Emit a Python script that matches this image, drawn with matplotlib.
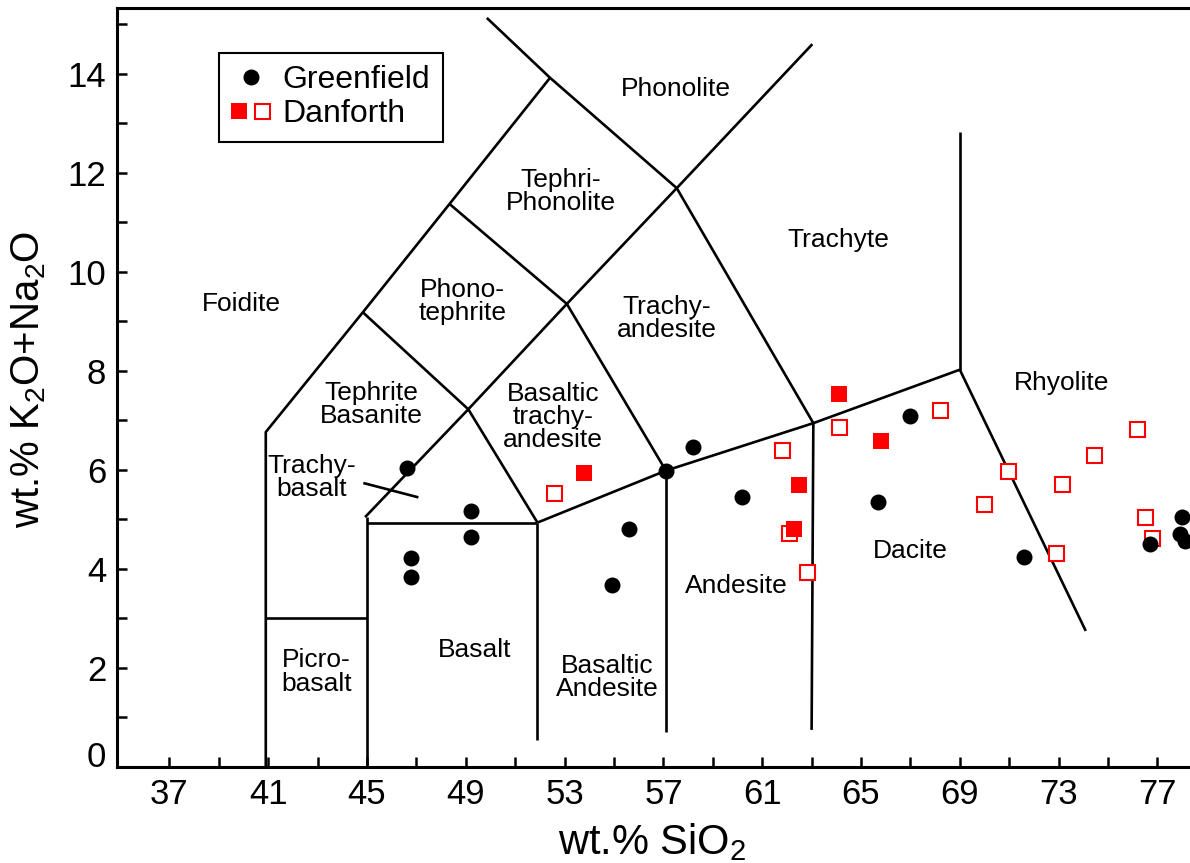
import matplotlib
matplotlib.use('Agg')
import matplotlib.pyplot as plt
import numpy as np
from matplotlib.lines import Line2D
from matplotlib.legend_handler import HandlerTuple

plt.rcParams['font.family'] = ['Liberation Sans', 'DejaVu Sans']
plt.rcParams['mathtext.fontset'] = 'custom'
plt.rcParams['mathtext.rm'] = 'Liberation Sans'

# ---- samples (SiO2, Na2O+K2O)
green_sio2 = [46.6, 46.8, 46.8, 49.2, 49.2, 54.9, 55.6, 57.1, 58.2, 60.2,
              65.7, 67.0, 71.6, 76.7, 78.0, 77.9, 78.1]
green_alk = [6.04, 4.21, 3.84, 5.17, 4.63, 3.66, 4.80, 5.98, 6.46, 5.44,
             5.34, 7.09, 4.24, 4.49, 5.04, 4.70, 4.55]

danf_fill_sio2 = [53.8, 62.5, 62.3, 64.1, 65.8]
danf_fill_alk = [5.94, 5.68, 4.80, 7.52, 6.57]

danf_open_sio2 = [52.55, 61.8, 62.1, 62.8, 64.1, 68.2, 69.96, 70.94, 72.89,
                  73.13, 74.44, 76.16, 76.5, 76.77]
danf_open_alk = [5.52, 6.40, 4.72, 3.94, 6.87, 7.21, 5.30, 5.98, 4.32,
                 5.71, 6.29, 6.82, 5.05, 4.61]

# ---- TAS field boundaries (as drawn)
outer_line = [(40.9, 0), (40.9, 6.76), (44.83, 9.18), (48.34, 11.37), (52.41, 13.92)]
picro_top = [(40.9, 3.0), (45.0, 3.0)]
v45 = [(45.0, 0), (45.0, 5.04)]
basalt_top = [(45.0, 4.93), (51.9, 4.93)]
v52 = [(51.9, 0.54), (51.9, 4.93)]
v57 = [(57.1, 0.70), (57.1, 5.98)]
v63 = [(63.0, 0.74), (63.07, 6.94)]
alk_line = [(51.9, 4.93), (57.1, 5.98), (63.07, 6.94), (69.0, 8.02)]
rhy_vert = [(69.0, 8.02), (69.0, 12.82)]
dac_rhy = [(69.0, 8.02), (74.1, 2.74)]
diag_up = [(44.92, 5.04), (49.1, 7.22), (53.09, 9.35), (57.54, 11.69), (63.03, 14.60)]
tephrite_line = [(44.83, 9.18), (49.1, 7.22), (51.9, 4.93)]
phonotep_line = [(48.34, 11.37), (53.09, 9.35), (57.1, 5.98)]
phonolite_line = [(49.85, 15.13), (52.41, 13.92), (57.54, 11.69), (63.07, 6.94)]
trachybas_tick = [(44.85, 5.73), (47.08, 5.44)]

boundaries = [outer_line, picro_top, v45, basalt_top, v52, v57, v63, alk_line,
              rhy_vert, dac_rhy, diag_up, tephrite_line, phonotep_line,
              phonolite_line, trachybas_tick]

field_names = ['Phonolite', 'Tephri-\nPhonolite', 'Trachyte', 'Foidite',
               'Phono-\ntephrite', 'Trachy-\nandesite', 'Tephrite\nBasanite',
               'Basaltic\ntrachy-\nandesite', 'Trachy-\nbasalt', 'Rhyolite',
               'Dacite', 'Andesite', 'Basalt', 'Picro-\nbasalt',
               'Basaltic\nAndesite']
field_x = [57.51, 52.85, 64.07, 39.90, 48.86, 57.14, 45.17, 52.52, 42.74,
           73.14, 66.98, 59.97, 49.34, 42.94, 54.72]
field_y = [13.70, 11.62, 10.65, 9.35, 9.40, 9.06, 7.31, 7.07, 5.85, 7.76,
           4.36, 3.64, 2.36, 1.91, 1.79]

fig = plt.figure(figsize=(11.9, 8.63), dpi=100)
ax = fig.add_axes([0.0986, 0.1118, 0.9014, 0.8789])

for seg in boundaries:
    xs, ys = zip(*seg)
    ax.plot(xs, ys, color='k', lw=1.9, solid_capstyle='butt', zorder=2)

for name, fx, fy in zip(field_names, field_x, field_y):
    ax.text(fx, fy, name, ha='center', va='center', fontsize=19,
            linespacing=0.95, zorder=2)

ax.plot(danf_open_sio2, danf_open_alk, ls='none', marker='s', ms=10.8,
        mfc='white', mec='red', mew=1.5, zorder=3)
ax.plot(danf_fill_sio2, danf_fill_alk, ls='none', marker='s', ms=11.3,
        mfc='red', mec='red', mew=0, zorder=4)
ax.plot(green_sio2, green_alk, ls='none', marker='o', ms=11.5,
        mfc='k', mec='k', mew=0, zorder=5)

ax.set_xlim(34.89, 78.32)
ax.set_ylim(0, 15.33)

ax.set_xticks(np.arange(37, 78, 4))
ax.set_xticks(np.arange(39, 78, 4), minor=True)
ax.set_yticks(np.arange(0, 15, 2))
ax.set_yticks(np.arange(1, 16, 2), minor=True)
ax.tick_params(which='both', direction='in', length=7, width=1.8,
               labelsize=25, pad=8)
ax.yaxis.get_major_ticks()[0].label1.set_va('baseline')

ax.spines['right'].set_visible(False)
for s in ['left', 'bottom', 'top']:
    ax.spines[s].set_linewidth(2.2)

ax.set_xlabel('wt.% SiO$_\\mathregular{2}$', fontsize=30)
ax.set_ylabel('wt.% K$_\\mathregular{2}$O+Na$_\\mathregular{2}$O', fontsize=29)
ax.xaxis.set_label_coords(0.4985, -0.072)
ax.yaxis.set_label_coords(-0.065, 0.511)

# legend
h_green = Line2D([], [], ls='none', marker='o', ms=11.5, mfc='k', mec='k', mew=0)
h_fill = Line2D([], [], ls='none', marker='s', ms=11.3, mfc='red', mec='red', mew=0)
h_open = Line2D([], [], ls='none', marker='s', ms=10.8, mfc='white', mec='red', mew=1.5)
leg = ax.legend([h_green, (h_fill, h_open)], ['Greenfield', 'Danforth'],
                handler_map={tuple: HandlerTuple(ndivide=None, pad=0.22)},
                loc='upper left', bbox_to_anchor=(0.0948, 0.9407),
                borderaxespad=0, fontsize=23, fancybox=False,
                edgecolor='k', framealpha=1, handlelength=1.22,
                handletextpad=0.38, borderpad=0.39, labelspacing=0.125)
leg.get_frame().set_linewidth(1.5)

fig.savefig('out.png', dpi=100)
